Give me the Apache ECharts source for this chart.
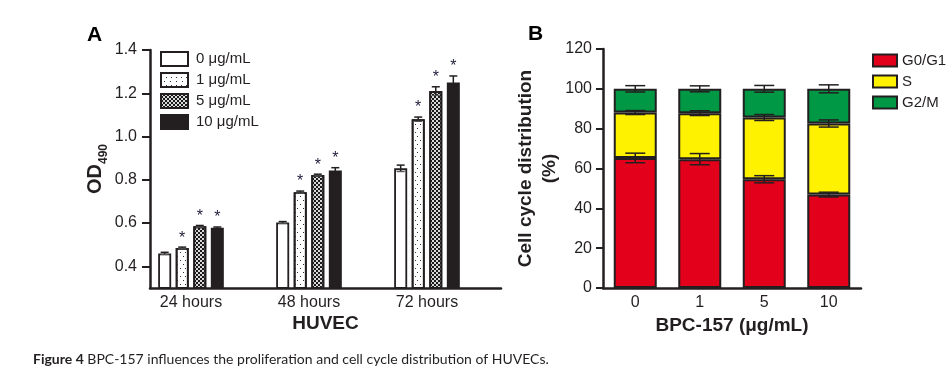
<!DOCTYPE html>
<html><head><meta charset="utf-8">
<script src="https://cdn.jsdelivr.net/npm/echarts@6/dist/echarts.min.js"></script>
<style>html,body{margin:0;padding:0;background:#fff}#c{width:951px;height:372px}</style>
</head><body><div id="c"></div>
<script>
// ---------- Panel A data ----------
const timePoints = ['24 hours', '48 hours', '72 hours'];
const doseNames = ['0 μg/mL', '1 μg/mL', '5 μg/mL', '10 μg/mL'];
const od0 = [0.460, 0.603, 0.853];
const od1 = [0.485, 0.743, 1.080];
const od2 = [0.585, 0.822, 1.210];
const od3 = [0.578, 0.843, 1.250];
const odErr0 = [0.005, 0.004, 0.015];
const odErr1 = [0.004, 0.005, 0.010];
const odErr2 = [0.004, 0.004, 0.020];
const odErr3 = [0.004, 0.013, 0.030];
const odSig0 = [false, false, false];
const odSig1 = [true, true, true];
const odSig2 = [true, true, true];
const odSig3 = [true, true, true];
const odTicks = [0.4, 0.6, 0.8, 1.0, 1.2, 1.4];

// ---------- Panel B data ----------
const bpcDoses = ['0', '1', '5', '10'];
const phaseNames = ['G0/G1', 'S', 'G2/M'];
const g0g1 = [65.3, 64.7, 54.6, 46.9];
const sPhase = [22.8, 23.1, 31.0, 35.7];
const g2m = [11.9, 12.2, 14.4, 17.4];
const g0g1Err = [2.4, 2.8, 1.8, 1.2];
const sErr = [1.0, 1.2, 1.5, 1.8];
const g2mErr = [1.6, 1.5, 1.7, 2.0];

// ---------- styling ----------
const INK = '#231f20';
const FONT = 'Liberation Sans';
const BAR_W = 13;
const BAR_GAP_PCT = 35;
const PITCH = BAR_W * (1 + BAR_GAP_PCT / 100);

const odMeans = [od0, od1, od2, od3];
const odErrs = [odErr0, odErr1, odErr2, odErr3];
const odSigs = [odSig0, odSig1, odSig2, odSig3];

const fills = ['#ffffff', '#ffffff', '#d9d9d9', INK];
const decals = [
  null,
  { symbol: 'rect', symbolSize: 1, color: '#333', dashArrayX: [[1, 4], [0, 2.5, 1, 1.5]], dashArrayY: [1, 3] },
  { symbol: 'rect', symbolSize: 1, color: '#1a1a1a', dashArrayX: [[2, 2], [0, 2, 2, 0]], dashArrayY: [2, 0] },
  null
];

const series = [];
doseNames.forEach((name, i) => {
  const it = { color: fills[i], borderColor: INK, borderWidth: 1.8 };
  if (decals[i]) it.decal = decals[i];
  series.push({
    type: 'bar', name: name, xAxisIndex: 1, yAxisIndex: 1,
    data: odMeans[i], barWidth: BAR_W, barGap: BAR_GAP_PCT + '%',
    itemStyle: it, clip: true, z: 2
  });
});
doseNames.forEach((name, i) => {
  const off = (i - 1.5) * PITCH;
  series.push({
    type: 'custom', name: 'errA' + i, xAxisIndex: 1, yAxisIndex: 1, z: 5,
    data: timePoints.map((t, k) => [k, odMeans[i][k], odErrs[i][k], odSigs[i][k] ? 1 : 0]),
    encode: { x: 0, y: 1 },
    renderItem: (params, api) => {
      const k = api.value(0), m = api.value(1), e = api.value(2), s = api.value(3);
      const hi = api.coord([k, m + e]);
      const lo = api.coord([k, m - e]);
      const x = hi[0] + off;
      const cw = 4;
      const children = [
        { type: 'line', shape: { x1: x, y1: hi[1], x2: x, y2: lo[1] }, style: { stroke: INK, lineWidth: 1.5 } },
        { type: 'line', shape: { x1: x - cw, y1: hi[1], x2: x + cw, y2: hi[1] }, style: { stroke: INK, lineWidth: 1.5 } },
        { type: 'line', shape: { x1: x - cw, y1: lo[1], x2: x + cw, y2: lo[1] }, style: { stroke: i === 3 ? INK : '#555', lineWidth: 1.2 } }
      ];
      if (s) {
        children.push({ type: 'text', style: { text: '*', x: x, y: hi[1] - 1, align: 'center', verticalAlign: 'bottom', fill: '#1c1c3a', font: '16px "' + FONT + '"' } });
      }
      return { type: 'group', children: children };
    }
  });
});

// Panel B stacked bars
const phaseVals = [g0g1, sPhase, g2m];
const phaseErrs = [g0g1Err, sErr, g2mErr];
const phaseColors = ['#e2001a', '#fff200', '#009844'];
phaseNames.forEach((name, p) => {
  series.push({
    type: 'bar', name: name, xAxisIndex: 2, yAxisIndex: 2, stack: 'cycle',
    data: phaseVals[p], barWidth: 43,
    itemStyle: { color: phaseColors[p], borderColor: INK, borderWidth: 2 }, z: 2
  });
});
phaseNames.forEach((name, p) => {
  const data = bpcDoses.map((d, k) => {
    let top = 0;
    for (let q = 0; q <= p; q++) top += phaseVals[q][k];
    return [k, top, phaseErrs[p][k]];
  });
  series.push({
    type: 'custom', name: 'errB' + p, xAxisIndex: 2, yAxisIndex: 2, z: 5,
    data: data, encode: { x: 0, y: 1 },
    renderItem: (params, api) => {
      const k = api.value(0), m = api.value(1), e = api.value(2);
      const hi = api.coord([k, m + e]);
      const lo = api.coord([k, m - e]);
      const x = hi[0], cw = 10;
      const st = { stroke: INK, lineWidth: 1.5 };
      return { type: 'group', children: [
        { type: 'line', shape: { x1: x, y1: hi[1], x2: x, y2: lo[1] }, style: st },
        { type: 'line', shape: { x1: x - cw, y1: hi[1], x2: x + cw, y2: hi[1] }, style: st },
        { type: 'line', shape: { x1: x - cw, y1: lo[1], x2: x + cw, y2: lo[1] }, style: st }
      ] };
    }
  });
});

const axisText = { color: INK, fontFamily: FONT, fontSize: 16 };
const nameText = { color: INK, fontFamily: FONT, fontSize: 19, fontWeight: 'bold' };

const option = {
  animation: false,
  backgroundColor: '#fff',
  textStyle: { fontFamily: FONT },
  grid: [
    { left: 150, top: 50, width: 351, height: 238 },
    { left: 132, top: 50, width: 354, height: 238 },
    { left: 603, top: 49, width: 258, height: 239 }
  ],
  xAxis: [
    { gridIndex: 0, type: 'value', min: 0, max: 1,
      axisLine: { show: true, lineStyle: { color: INK, width: 2.5 } },
      axisTick: { show: false }, axisLabel: { show: false }, splitLine: { show: false },
      name: 'HUVEC', nameLocation: 'middle', nameGap: 26, nameTextStyle: nameText },
    { gridIndex: 1, type: 'category', data: timePoints,
      axisLine: { show: false }, axisTick: { show: false },
      axisLabel: Object.assign({ margin: 7 }, axisText) },
    { gridIndex: 2, type: 'category', data: bpcDoses,
      axisLine: { show: true, lineStyle: { color: INK, width: 2.5 } }, axisTick: { show: false },
      axisLabel: Object.assign({ margin: 7 }, axisText),
      name: 'BPC-157 (μg/mL)', nameLocation: 'middle', nameGap: 25, nameTextStyle: nameText }
  ],
  yAxis: [
    { gridIndex: 0, type: 'value', min: 0.3, max: 1.4, interval: 0.1,
      axisLine: { show: true, lineStyle: { color: INK, width: 2.5 } },
      axisTick: { show: true, length: 8, customValues: odTicks, lineStyle: { color: INK, width: 2 } },
      axisLabel: Object.assign({ margin: 13, customValues: odTicks, formatter: v => v.toFixed(1) }, axisText),
      splitLine: { show: false },
      name: '{a|OD}{b|490}', nameLocation: 'middle', nameGap: 45,
      nameTextStyle: { rich: {
        a: { fontFamily: FONT, fontSize: 20, fontWeight: 'bold', color: INK, lineHeight: 24, verticalAlign: 'bottom' },
        b: { fontFamily: FONT, fontSize: 12, fontWeight: 'bold', color: INK, lineHeight: 24, verticalAlign: 'bottom', padding: [0, 0, -5, 0] }
      } } },
    { gridIndex: 1, type: 'value', min: 0.3, max: 1.4, show: false },
    { gridIndex: 2, type: 'value', min: 0, max: 120, interval: 20,
      axisLine: { show: true, lineStyle: { color: INK, width: 2.5 } },
      axisTick: { show: true, length: 7, lineStyle: { color: INK, width: 2 } },
      axisLabel: Object.assign({ margin: 11 }, axisText),
      splitLine: { show: false },
      name: 'Cell cycle distribution\n(%)', nameLocation: 'middle', nameGap: 29,
      nameTextStyle: Object.assign({ lineHeight: 24 }, nameText) }
  ],
  legend: [
    { data: doseNames, orient: 'vertical', left: 160, top: 51, itemWidth: 27, itemHeight: 14, itemGap: 5, padding: 0,
      icon: 'rect', textStyle: { color: INK, fontFamily: FONT, fontSize: 15, padding: [0, 0, 0, 3] }, selectedMode: false },
    { data: phaseNames, orient: 'vertical', left: 872, top: 53, itemWidth: 24, itemHeight: 12, itemGap: 6, padding: 0,
      icon: 'rect', textStyle: { color: INK, fontFamily: FONT, fontSize: 15 }, selectedMode: false }
  ],
  graphic: [
    { type: 'text', left: 87, top: 25, style: { text: 'A', fill: '#000', font: 'bold 21px "' + FONT + '"' } },
    { type: 'text', left: 528, top: 24, style: { text: 'B', fill: '#000', font: 'bold 21px "' + FONT + '"' } },
    { type: 'text', left: 33, top: 352, style: {
      text: '{b|Figure 4} BPC-157 influences the proliferation and cell cycle distribution of HUVECs.',
      fill: INK, font: '14px Lato',
      rich: { b: { fontFamily: 'Lato', fontSize: 14, fontWeight: 'bold', fill: INK } } } }
  ],
  series: series
};
const chart = echarts.init(document.getElementById('c'), null, { renderer: 'canvas' });
chart.setOption(option);
</script>
</body></html>
